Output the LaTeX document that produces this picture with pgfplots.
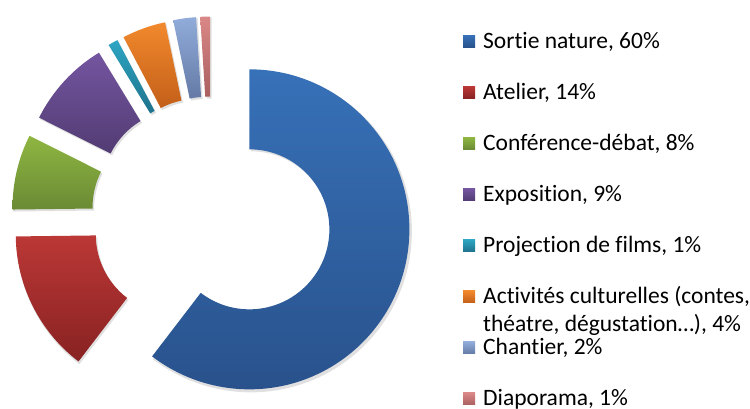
\documentclass[border=0pt]{standalone}
\usepackage{pgfplots}
\pgfplotsset{compat=1.18}
\usepackage{pgfplotstable}
\usepackage{fontspec}
\setmainfont[Ligatures=NoCommon]{Carlito}

\definecolor{t0}{RGB}{55,113,184}\definecolor{b0}{RGB}{41,82,140}
\definecolor{t1}{RGB}{187,56,54}\definecolor{b1}{RGB}{136,34,34}
\definecolor{t2}{RGB}{142,182,66}\definecolor{b2}{RGB}{107,138,52}
\definecolor{t3}{RGB}{116,85,160}\definecolor{b3}{RGB}{82,60,115}
\definecolor{t4}{RGB}{45,165,195}\definecolor{b4}{RGB}{30,115,140}
\definecolor{t5}{RGB}{242,137,45}\definecolor{b5}{RGB}{195,95,25}
\definecolor{t6}{RGB}{145,172,218}\definecolor{b6}{RGB}{100,122,165}
\definecolor{t7}{RGB}{218,135,135}\definecolor{b7}{RGB}{170,95,95}

\pgfplotstableread{
idx value
0 60.4
1 14.4
2 7.6
3 8.9
4 1.0
5 4.4
6 2.3
7 1.0
}\slices

\begin{document}
\begin{tikzpicture}
\begin{axis}[x=1pt,y=1pt,xmin=0,xmax=750,ymin=0,ymax=409,hide axis,clip=false,
  anchor=south west,at={(0,0)}]
\def\Cx{211.5}\def\Cy{192.5}
\def\cum{0}
\pgfplotsforeachungrouped \i in {0,...,7}{%
  \pgfplotstablegetelem{\i}{value}\of{\slices}%
  \let\v\pgfplotsretval
  \pgfmathsetmacro\tzero{90-3.6*\cum}%
  \pgfmathsetmacro\tone{90-3.6*(\cum+\v)}%
  \pgfmathsetmacro\tm{(\tzero+\tone)/2}%
  \pgfmathsetmacro\cx{\Cx+40*cos(\tm)}%
  \pgfmathsetmacro\cy{\Cy+40*sin(\tm)}%
  \edef\temp{\noexpand\fill[black,opacity=0.12] ([shift={(\tzero:161pt)}]axis cs:\cx+1.5,\cy-2) arc[start angle=\tzero,end angle=\tone,radius=161pt] -- ([shift={(\tone:80pt)}]axis cs:\cx+1.5,\cy-2) arc[start angle=\tone,end angle=\tzero,radius=80pt] -- cycle;
  \noexpand\shade[top color=t\i,bottom color=b\i] ([shift={(\tzero:160pt)}]axis cs:\cx,\cy) arc[start angle=\tzero,end angle=\tone,radius=160pt] -- ([shift={(\tone:80pt)}]axis cs:\cx,\cy) arc[start angle=\tone,end angle=\tzero,radius=80pt] -- cycle;}%
  \temp
  \pgfmathsetmacro\cum{\cum+\v}%
}
\end{axis}
\begin{scope}[every node/.style={anchor=base west,inner sep=0pt,font=\fontsize{23.5}{28}\selectfont}]
\foreach \yb/\c/\t in {360.7/0/{Sortie nature, 60\%},309.6/1/{Atelier, 14\%},258.5/2/{Conférence-débat, 8\%},207.4/3/{Exposition, 9\%},156.3/4/{Projection de films, 1\%},105.2/5/{Activités culturelles (contes,},54.1/6/{Chantier, 2\%},3.0/7/{Diaporama, 1\%}}{
  \shade[top color=t\c,bottom color=b\c] (463pt,\yb pt+1pt) rectangle (475pt,\yb pt+13pt);
  \node at (483pt,\yb pt) {\t};
}
\node at (483pt,77.3pt) {théatre, dégustation…), 4\%};
\end{scope}
\pgfresetboundingbox
\path[use as bounding box] (0,0) rectangle (750pt,409pt);
\end{tikzpicture}
\end{document}
